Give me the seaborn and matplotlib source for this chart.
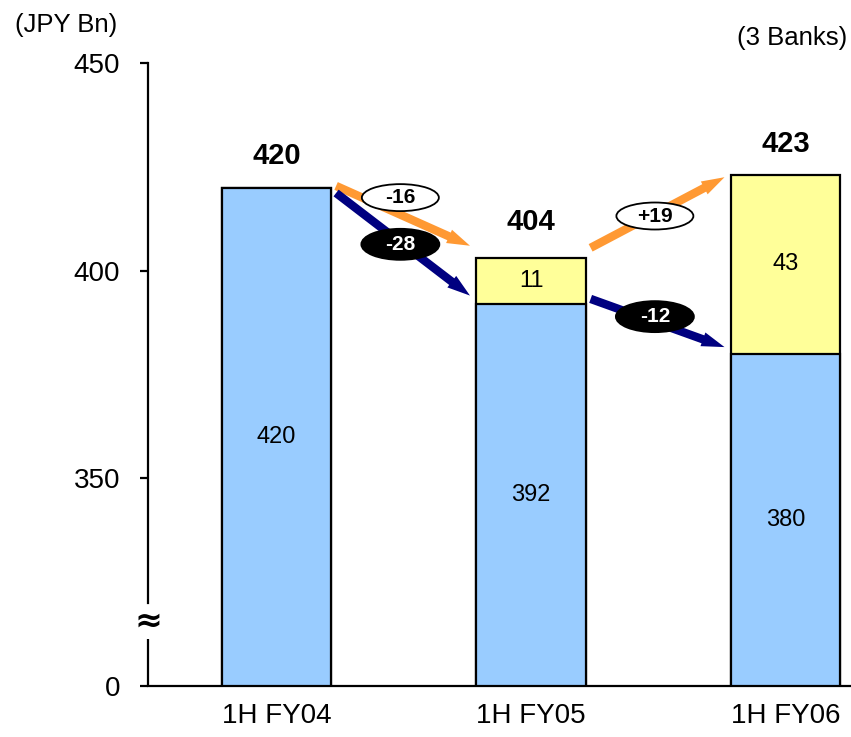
import matplotlib
matplotlib.use("Agg")
import matplotlib.pyplot as plt
import seaborn as sns
from matplotlib.patches import Ellipse
from matplotlib.transforms import ScaledTranslation

# Half-year results for the three banks (JPY Bn)
periods = ["1H FY04", "1H FY05", "1H FY06"]
base_part = [420, 392, 380]      # blue segment
added_part = [0, 11, 43]         # yellow segment
totals = [420, 404, 423]         # total shown above each bar
y_ticks = [300, 350, 400, 450]
y_tick_labels = ["0", "350", "400", "450"]

BLUE = "#99CCFF"
YELLOW = "#FFFF99"
ORANGE = "#FF9933"
NAVY = "#000080"

sns.set_theme(style="white")
plt.rcParams["font.family"] = ["Liberation Sans", "DejaVu Sans"]
plt.rcParams.update({
    "text.color": "black",
    "axes.edgecolor": "black",
    "axes.labelcolor": "black",
    "xtick.color": "black",
    "ytick.color": "black",
})

fig = plt.figure(figsize=(8.51, 7.37), dpi=100)
ax = fig.add_axes([148 / 851, 51 / 737, 703 / 851, 623 / 737])

stack_tops = [b + a for b, a in zip(base_part, added_part)]
bar_w = 0.43
sns.barplot(x=periods, y=stack_tops, color=YELLOW, saturation=1, width=bar_w,
            edgecolor="black", linewidth=1.6, errorbar=None, ax=ax)
sns.barplot(x=periods, y=base_part, color=BLUE, saturation=1, width=bar_w,
            edgecolor="black", linewidth=1.6, errorbar=None, ax=ax)

ymin, ymax = 300, 450
ax.set_ylim(ymin, ymax)
ax.set_xlim(-0.505, 2.257)
ax.set_xlabel("")
ax.set_ylabel("")

# Axis styling
for side in ("top", "right"):
    ax.spines[side].set_visible(False)
ax.spines["bottom"].set_linewidth(1.6)
ax.spines["left"].set_linewidth(1.6)
gap_top, gap_bot = 320.0, 311.3
ax.spines["left"].set_bounds(gap_top, ymax)
ax.plot([ax.get_xlim()[0]] * 2, [ymin, gap_bot], color="black", lw=1.6,
        clip_on=False, solid_capstyle="butt")
ax.text(ax.get_xlim()[0], (gap_top + gap_bot) / 2, "≈", ha="center", va="center",
        fontsize=24, fontweight="bold", family=["DejaVu Sans"])

ax.set_yticks(y_ticks)
ax.set_yticklabels(y_tick_labels)
ax.tick_params(axis="y", which="major", left=True, length=6, width=1.6,
               direction="out", pad=14, labelsize=20, color="black")
ax.tick_params(axis="x", length=0, pad=12, labelsize=20)

# Segment labels
for i, (b, a) in enumerate(zip(base_part, added_part)):
    ax.text(i, (ymin + b) / 2, f"{b}", ha="center", va="center", fontsize=17)
    if a:
        ax.text(i, b + a / 2, f"{a}", ha="center", va="center", fontsize=17)

# Totals above bars
for i, t in enumerate(totals):
    ax.annotate(f"{t}", xy=(i, max(t, stack_tops[i])), xytext=(0, 17),
                textcoords="offset points", ha="center", va="baseline",
                fontsize=21, fontweight="bold")

# Change arrows between periods: (from, y0, to, y1, colour, change, label style, label lift)
x_gap0 = bar_w / 2 + 0.019
x_gap1 = bar_w / 2 + 0.025
changes = [
    (0, totals[0] + 0.4, 1, totals[1] + 2.0, ORANGE, totals[1] - totals[0], "light", 4.1),
    (0, totals[0] - 1.3, 1, base_part[1] + 2.0, NAVY, base_part[1] - base_part[0], "dark", -0.5),
    (1, totals[1] + 1.5, 2, totals[2] - 0.5, ORANGE, totals[2] - totals[1], "light", -0.5),
    (1, base_part[1] + 1.2, 2, base_part[2] + 1.6, NAVY, base_part[2] - base_part[1], "dark", 1.3),
]

for i0, y0, i1, y1, col, delta, style, lift in changes:
    x0 = i0 + x_gap0
    x1 = i1 - x_gap1
    ax.annotate("", xy=(x1, y1), xytext=(x0, y0),
                arrowprops=dict(arrowstyle="simple,head_length=1.5,head_width=0.95,tail_width=0.55",
                                fc=col, ec=col, lw=0, mutation_scale=11,
                                shrinkA=0, shrinkB=0))
    t = 0.48
    lx = x0 + (x1 - x0) * t
    ly = y0 + (y1 - y0) * t + lift
    tr = fig.dpi_scale_trans + ScaledTranslation(lx, ly, ax.transData)
    if style == "light":
        ell = Ellipse((0, 0), 0.77, 0.27, transform=tr, fc="white", ec="black", lw=1.3, zorder=5)
        tcol = "black"
    else:
        ell = Ellipse((0, 0), 0.78, 0.31, transform=tr, fc="black", ec="black", lw=1.3, zorder=5)
        tcol = "white"
    ax.add_artist(ell)
    ax.text(lx, ly, f"{delta:+d}", ha="center", va="center", fontsize=15,
            fontweight="bold", color=tcol, zorder=6)

# Unit and scope notes
fig.text(15 / 851, 1 - 25 / 737, "(JPY Bn)", ha="left", va="center", fontsize=18.5)
fig.text(847 / 851, 1 - 38 / 737, "(3 Banks)", ha="right", va="center", fontsize=18.5)

fig.savefig("out.png", dpi=100)
